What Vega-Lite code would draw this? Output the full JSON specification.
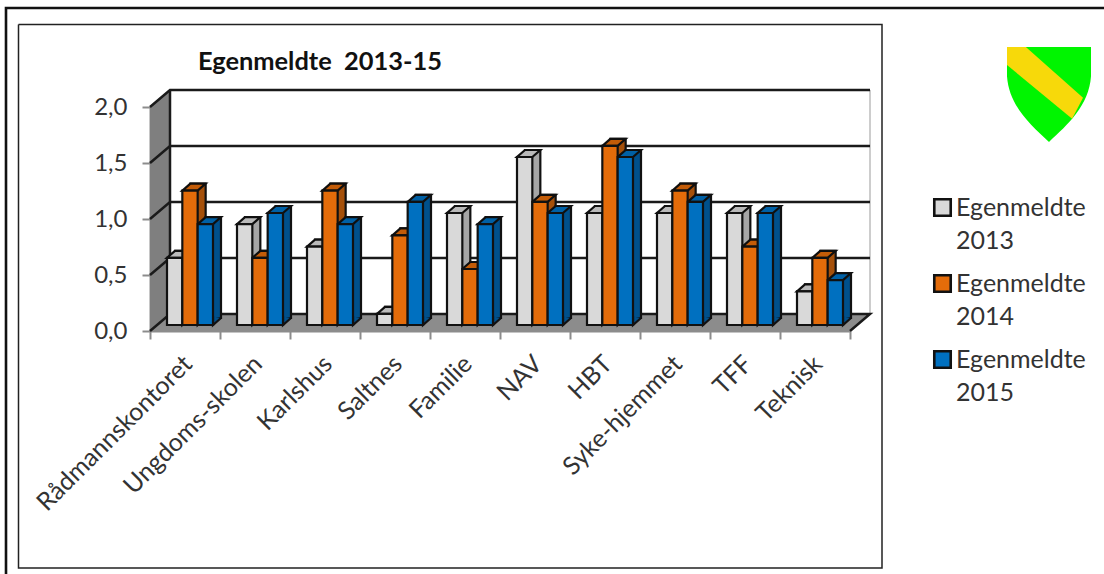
{
"$schema":"https://vega.github.io/schema/vega-lite/v6.json",
"width":700,"height":224,"autosize":"none",
"padding":{"left":150,"top":107,"right":254,"bottom":243},
"background":"white",
"config":{"view":{"stroke":null},"font":"Lato"},
"datasets":{
"bars":[
{"avdeling":"Rådmannskontoret","serie":"Egenmeldte 2013","verdi":0.6},{"avdeling":"Rådmannskontoret","serie":"Egenmeldte 2014","verdi":1.2},{"avdeling":"Rådmannskontoret","serie":"Egenmeldte 2015","verdi":0.9},
{"avdeling":"Ungdoms-skolen","serie":"Egenmeldte 2013","verdi":0.9},{"avdeling":"Ungdoms-skolen","serie":"Egenmeldte 2014","verdi":0.6},{"avdeling":"Ungdoms-skolen","serie":"Egenmeldte 2015","verdi":1.0},
{"avdeling":"Karlshus","serie":"Egenmeldte 2013","verdi":0.7},{"avdeling":"Karlshus","serie":"Egenmeldte 2014","verdi":1.2},{"avdeling":"Karlshus","serie":"Egenmeldte 2015","verdi":0.9},
{"avdeling":"Saltnes","serie":"Egenmeldte 2013","verdi":0.1},{"avdeling":"Saltnes","serie":"Egenmeldte 2014","verdi":0.8},{"avdeling":"Saltnes","serie":"Egenmeldte 2015","verdi":1.1},
{"avdeling":"Familie","serie":"Egenmeldte 2013","verdi":1.0},{"avdeling":"Familie","serie":"Egenmeldte 2014","verdi":0.5},{"avdeling":"Familie","serie":"Egenmeldte 2015","verdi":0.9},
{"avdeling":"NAV","serie":"Egenmeldte 2013","verdi":1.5},{"avdeling":"NAV","serie":"Egenmeldte 2014","verdi":1.1},{"avdeling":"NAV","serie":"Egenmeldte 2015","verdi":1.0},
{"avdeling":"HBT","serie":"Egenmeldte 2013","verdi":1.0},{"avdeling":"HBT","serie":"Egenmeldte 2014","verdi":1.6},{"avdeling":"HBT","serie":"Egenmeldte 2015","verdi":1.5},
{"avdeling":"Syke-hjemmet","serie":"Egenmeldte 2013","verdi":1.0},{"avdeling":"Syke-hjemmet","serie":"Egenmeldte 2014","verdi":1.2},{"avdeling":"Syke-hjemmet","serie":"Egenmeldte 2015","verdi":1.1},
{"avdeling":"TFF","serie":"Egenmeldte 2013","verdi":1.0},{"avdeling":"TFF","serie":"Egenmeldte 2014","verdi":0.7},{"avdeling":"TFF","serie":"Egenmeldte 2015","verdi":1.0},
{"avdeling":"Teknisk","serie":"Egenmeldte 2013","verdi":0.3},{"avdeling":"Teknisk","serie":"Egenmeldte 2014","verdi":0.6},{"avdeling":"Teknisk","serie":"Egenmeldte 2015","verdi":0.4}
],
"wall":[{"g":0,"v":0,"v2":2},{"g":20,"v":0.152,"v2":2.152}],
"floor":[{"g":0,"v":0,"v2":0},{"g":20,"v":0,"v2":0.152},{"g":700,"v":0,"v2":0.152},{"g":720,"v":0.152,"v2":0.152}],
"lines":[
{"id":"g1","i":0,"g":0,"v":0.5},{"id":"g1","i":1,"g":20,"v":0.652},{"id":"g1","i":2,"g":720,"v":0.652},
{"id":"g2","i":0,"g":0,"v":1},{"id":"g2","i":1,"g":20,"v":1.152},{"id":"g2","i":2,"g":720,"v":1.152},
{"id":"g3","i":0,"g":0,"v":1.5},{"id":"g3","i":1,"g":20,"v":1.652},{"id":"g3","i":2,"g":720,"v":1.652},
{"id":"g4","i":0,"g":0,"v":2},{"id":"g4","i":1,"g":20,"v":2.152},{"id":"g4","i":2,"g":720,"v":2.152},
{"id":"back","i":0,"g":20,"v":0.152},{"id":"back","i":1,"g":20,"v":2.152},
{"id":"floor","i":0,"g":0,"v":0},{"id":"floor","i":1,"g":20,"v":0.152},{"id":"floor","i":2,"g":720,"v":0.152},{"id":"floor","i":3,"g":700,"v":0}
],
"edge":[{"i":0,"g":720,"v":0.152},{"i":1,"g":720,"v":2.152}],
"inner":[{"id":"inner","i":0,"g":-131.5,"v":2.737},{"id":"inner","i":1,"g":732,"v":2.737},{"id":"inner","i":2,"g":732,"v":-2.116},{"id":"inner","i":3,"g":-131.5,"v":-2.116},{"id":"inner","i":4,"g":-131.5,"v":2.737}],
"outer":[{"id":"outer","i":0,"g":-144,"v":-2.2},{"id":"outer","i":1,"g":-144,"v":2.884},{"id":"outer","i":2,"g":954,"v":2.884}],
"logo":[{"g":899,"v":2.161}],
"tittel":[{"g":48,"v":2.402,"tekst":"Egenmeldte \u00a02013-15"}]
},
"layer":[
{"layer":[
{"data":{"name":"inner"},"mark":{"type":"line","color":"#222222","strokeWidth":1.5,"clip":false},
 "encoding":{"x":{"field":"g","type":"quantitative","scale":{"domain":[0,700],"nice":false,"zero":false},"axis":null},
 "y":{"field":"v","type":"quantitative","scale":{"domain":[0,2],"nice":false},"axis":{"title":null,"values":[0,0.5,1,1.5,2],"labelExpr":"replace(format(datum.value,'.1f'),'.',',')","labelFont":"Lato","labelFontSize":24,"labelColor":"#333333","labelPadding":15,"tickColor":"#8c8c8c","tickSize":8,"tickWidth":2,"domainColor":"#8c8c8c","domainWidth":2,"grid":false}},
 "order":{"field":"i","type":"quantitative"}}},
{"data":{"name":"outer"},"mark":{"type":"line","color":"#111111","strokeWidth":2.6,"clip":false},
 "encoding":{"x":{"field":"g","type":"quantitative"},"y":{"field":"v","type":"quantitative"},"order":{"field":"i","type":"quantitative"}}},
{"data":{"name":"tittel"},"mark":{"type":"text","font":"Lato","fontSize":25.4,"fontWeight":"bold","color":"#111111","align":"left","baseline":"middle"},
 "encoding":{"x":{"field":"g","type":"quantitative"},"y":{"field":"v","type":"quantitative"},"text":{"field":"tekst"}}},
{"data":{"name":"wall"},"mark":{"type":"area","color":"#7f7f7f","opacity":1},
 "encoding":{"x":{"field":"g","type":"quantitative"},"y":{"field":"v","type":"quantitative"},"y2":{"field":"v2"}}},
{"data":{"name":"floor"},"mark":{"type":"area","color":"#8c8c8c","opacity":1},
 "encoding":{"x":{"field":"g","type":"quantitative"},"y":{"field":"v","type":"quantitative"},"y2":{"field":"v2"}}},
{"data":{"name":"edge"},"mark":{"type":"line","color":"#bdbdbd","strokeWidth":1.5},
 "encoding":{"x":{"field":"g","type":"quantitative"},"y":{"field":"v","type":"quantitative"},"order":{"field":"i","type":"quantitative"}}},
{"data":{"name":"lines"},"mark":{"type":"line","color":"#1a1a1a","strokeWidth":2.5},
 "encoding":{"x":{"field":"g","type":"quantitative"},"y":{"field":"v","type":"quantitative"},"detail":{"field":"id"},"order":{"field":"i","type":"quantitative"}}},
{"data":{"name":"logo"},"mark":{"type":"point","filled":true,"opacity":1,"color":"#00f500","strokeWidth":0,"size":7056,"shape":"M-1,-1 L1,-1 L1,-0.3 C0.95,0.4 0.45,0.85 0,1.26 C-0.45,0.85 -0.95,0.4 -1,-0.3 Z"},
 "encoding":{"x":{"field":"g","type":"quantitative"},"y":{"field":"v","type":"quantitative"}}},
{"data":{"name":"logo"},"mark":{"type":"point","filled":true,"opacity":1,"color":"#f7d90a","strokeWidth":0,"size":7056,"shape":"M-1,-1 L-0.55,-1 L0.81,0.21 L0.55,0.71 L-1,-0.57 Z"},
 "encoding":{"x":{"field":"g","type":"quantitative"},"y":{"field":"v","type":"quantitative"}}}
]},
{"data":{"name":"bars"},
 "resolve":{"scale":{"xOffset":"independent"}},
 "layer":[
 {"mark":{"type":"bar","stroke":"#111111","strokeWidth":2.2,"yOffset":-13,"y2Offset":-13},
  "encoding":{"x":{"field":"avdeling","type":"nominal","sort":null,"scale":{"paddingInner":0,"paddingOuter":0},"axis":{"title":null,"orient":"bottom","labelAngle":-45,"labelFont":"Lato","labelFontSize":25,"labelColor":"#333333","labelLimit":0,"labelPadding":12,"labelOffset":-6,"tickBand":"extent","tickColor":"#8c8c8c","tickSize":8,"tickWidth":2,"domainColor":"#8c8c8c","domainWidth":2}},
  "xOffset":{"field":"serie","type":"nominal","scale":{"range":[25,71]}},
  "y":{"field":"verdi","type":"quantitative"},
  "fill":{"field":"serie","type":"nominal","scale":{"range":["#a6a6a6","#a5500a","#00508c"]},"legend":null}}},
 {"mark":{"type":"point","filled":true,"opacity":1,"stroke":"#111111","strokeWidth":2.2,"size":400,"yOffset":-6,"shape":"M0.767,-0.85 L0.767,0 L1.567,-0.7"},
  "encoding":{"x":{"field":"avdeling","type":"nominal","sort":null},
  "xOffset":{"field":"serie","type":"nominal","scale":{"range":[17,63]}},
  "y":{"datum":0,"type":"quantitative"},
  "fill":{"field":"serie","type":"nominal","legend":null}}},
 {"mark":{"type":"point","filled":true,"opacity":1,"stroke":"#111111","strokeWidth":2.2,"size":400,"yOffset":-6,"shape":"M-0.767,0 L0.767,0 L1.567,-0.7 L0.033,-0.7 Z"},
  "encoding":{"x":{"field":"avdeling","type":"nominal","sort":null},
  "xOffset":{"field":"serie","type":"nominal","scale":{"range":[17,63]}},
  "y":{"field":"verdi","type":"quantitative"},
  "color":{"field":"serie","type":"nominal","scale":{"range":["#d9d9d9","#e46c0a","#0070c0"]},"legend":{"title":null,"orient":"none","legendX":780,"legendY":88,"symbolType":"square","symbolSize":270,"symbolStrokeColor":"#111111","symbolStrokeWidth":2.6,"labelFont":"Lato","labelFontSize":25,"labelColor":"#333333","labelLimit":0,"labelOffset":1,"labelExpr":"split(datum.label,' ')","rowPadding":16,"encoding":{"labels":{"lineHeight":{"value":33}}}}}}},
 {"mark":{"type":"point","filled":true,"fill":"#000000","fillOpacity":0.14,"strokeWidth":0,"size":400,"yOffset":-6,"shape":"M-0.767,0 L0.767,0 L1.567,-0.7 L0.033,-0.7 Z"},
  "encoding":{"x":{"field":"avdeling","type":"nominal","sort":null},
  "xOffset":{"field":"serie","type":"nominal","scale":{"range":[17,63]}},
  "y":{"field":"verdi","type":"quantitative"}}},
 {"mark":{"type":"bar","stroke":"#111111","strokeWidth":2.2,"yOffset":-6,"y2Offset":-6},
  "encoding":{"x":{"field":"avdeling","type":"nominal","sort":null},
  "xOffset":{"field":"serie","type":"nominal","scale":{"range":[17,63]}},
  "y":{"field":"verdi","type":"quantitative"},
  "color":{"field":"serie","type":"nominal","legend":{"title":null,"orient":"none","legendX":780,"legendY":88,"symbolType":"square","symbolSize":270,"symbolStrokeColor":"#111111","symbolStrokeWidth":2.6,"labelFont":"Lato","labelFontSize":25,"labelColor":"#333333","labelLimit":0,"labelOffset":1,"labelExpr":"split(datum.label,' ')","rowPadding":16,"encoding":{"labels":{"lineHeight":{"value":33}}}}}}}
 ]}
],
"resolve":{"scale":{"x":"independent"}}
}
